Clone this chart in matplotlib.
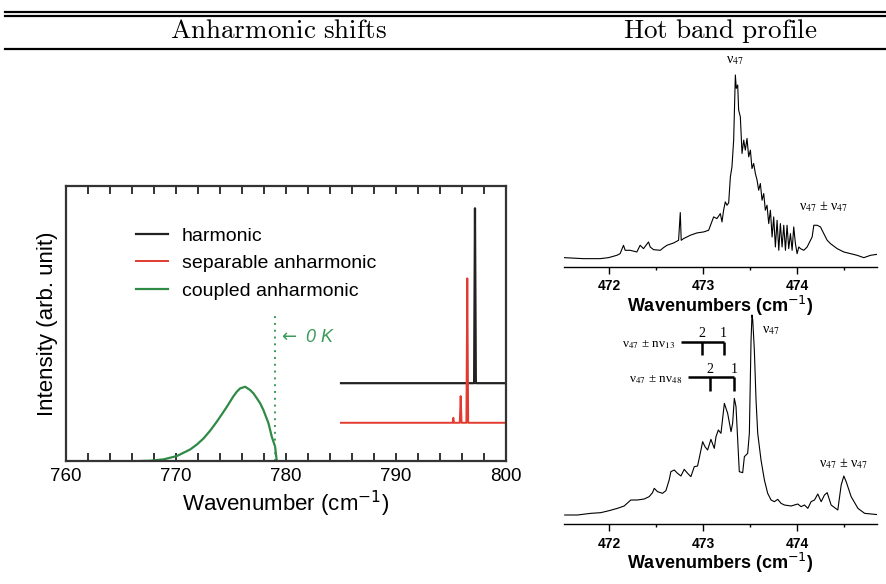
import numpy as np
import matplotlib.pyplot as plt
from matplotlib.lines import Line2D

# ---- left panel: simulated spectra (axis units: 0..1 of plot height)
green_w = [766.75, 767.66, 768.87, 770.08, 771.29, 771.9, 772.5, 773.1, 773.71, 774.17,
           774.62, 775.23, 775.53, 775.83, 776.29, 776.74, 777.04, 777.35, 777.65, 777.95,
           778.41, 778.71, 779.01, 779.16]
green_I = [0.0, 0.001, 0.006, 0.018, 0.042, 0.06, 0.082, 0.11, 0.143, 0.17,
           0.197, 0.236, 0.252, 0.264, 0.270, 0.258, 0.246, 0.228, 0.21, 0.185,
           0.137, 0.088, 0.052, 0.0]
harm_w = [785.0, 797.1, 797.18, 797.26, 800.0]
harm_I = [0.283, 0.283, 0.919, 0.283, 0.283]
sep_w = [785.0, 795.15, 795.21, 795.27, 795.8, 795.88, 795.96, 796.4, 796.48, 796.56, 800.0]
sep_I = [0.139, 0.139, 0.157, 0.139, 0.139, 0.236, 0.139, 0.139, 0.664, 0.139, 0.139]
zero_K = 779.0
zero_K_top = 0.53

# ---- right top: hot band profile (arb. units)
top_w = [471.520, 471.727, 471.904, 471.993, 472.082, 472.117, 472.153, 472.171, 472.224, 472.295,
         472.330, 472.366, 472.419, 472.437, 472.472, 472.544, 472.579, 472.615, 472.686, 472.739,
         472.757, 472.767, 472.792, 472.863, 472.934, 473.005, 473.059, 473.112, 473.147, 473.183,
         473.201, 473.218, 473.236, 473.254, 473.272, 473.290, 473.307, 473.325, 473.343, 473.353,
         473.368, 473.378, 473.396, 473.414, 473.432, 473.449, 473.467, 473.485, 473.503, 473.520,
         473.538, 473.556, 473.574, 473.591, 473.609, 473.627, 473.645, 473.662, 473.680, 473.698,
         473.716, 473.734, 473.751, 473.769, 473.787, 473.805, 473.822, 473.840, 473.858, 473.876,
         473.893, 473.911, 473.929, 473.947, 473.964, 473.982, 474.000, 474.018, 474.036, 474.071,
         474.107, 474.142, 474.160, 474.178, 474.213, 474.249, 474.266, 474.284, 474.320, 474.355,
         474.426, 474.497, 474.568, 474.639, 474.710, 474.781, 474.853]
top_I = [28, 25, 25, 28, 35, 40, 65, 50, 50, 45,
         65, 55, 75, 60, 52, 50, 58, 65, 72, 80,
         163, 80, 85, 95, 102, 105, 110, 150, 145, 160,
         135, 170, 195, 185, 192, 270, 300, 380, 575, 535,
         545, 470, 450, 340, 380, 350, 385, 330, 350, 295,
         310, 280, 260, 230, 250, 200, 220, 170, 185, 130,
         170, 90, 150, 60, 140, 50, 130, 60, 125, 50,
         125, 55, 100, 50, 120, 70, 40, 60, 55, 50,
         60, 80, 90, 125, 125, 120, 110, 100, 80, 70,
         55, 45, 40, 35, 28, 35, 38]

# ---- right bottom: hot band profile (arb. units)
bot_w = [471.528, 471.663, 471.805, 471.911, 472.000, 472.089, 472.160, 472.231, 472.302, 472.373,
         472.426, 472.462, 472.480, 472.515, 472.568, 472.604, 472.639, 472.657, 472.693, 472.728,
         472.764, 472.799, 472.835, 472.870, 472.906, 472.941, 472.977, 472.995, 473.020, 473.048,
         473.083, 473.119, 473.137, 473.162, 473.190, 473.226, 473.261, 473.297, 473.314, 473.332,
         473.350, 473.368, 473.385, 473.421, 473.439, 473.474, 473.492, 473.510, 473.520, 473.528,
         473.545, 473.563, 473.581, 473.616, 473.652, 473.687, 473.723, 473.758, 473.794, 473.829,
         473.865, 473.936, 474.007, 474.043, 474.078, 474.114, 474.149, 474.185, 474.220, 474.256,
         474.291, 474.320, 474.362, 474.433, 474.469, 474.497, 474.522, 474.575, 474.647, 474.718,
         474.789, 474.860]
bot_I = [27, 27, 32, 34, 40, 47, 54, 72, 72, 75,
         82, 94, 107, 97, 92, 100, 132, 157, 162, 152,
         144, 164, 152, 142, 172, 174, 222, 247, 232, 222,
         254, 227, 262, 282, 272, 362, 332, 277, 302, 377,
         352, 252, 157, 154, 202, 212, 272, 552, 627, 612,
         522, 372, 272, 192, 132, 92, 72, 67, 74, 62,
         57, 54, 60, 52, 57, 47, 67, 72, 90, 67,
         87, 94, 57, 42, 117, 144, 127, 82, 47, 32,
         30, 28]

# progressions (bracket positions in wavenumbers)
prog13_w = [472.764, 472.984, 473.218]
prog48_w = [472.842, 473.073, 473.332]
prog13_y, prog48_y = 547, 440

plt.rcParams['font.family'] = 'Liberation Sans'

fig = plt.figure(figsize=(8.87, 5.84), dpi=100)
W, H = 887, 584

def fbox(x0, y0, x1, y1):
    return [x0 / W, (H - y1) / H, (x1 - x0) / W, (y1 - y0) / H]

# header rules and titles
for yy, lw in [(11.5, 1.6), (15.5, 1.6), (48.5, 1.6)]:
    fig.add_artist(Line2D([5 / W, 1], [1 - yy / H, 1 - yy / H], color='black', lw=lw))
fig.text(278 / W, 1 - 31 / H, r'$\mathrm{Anharmonic\ shifts}$', math_fontfamily='cm',
         fontsize=19.5, ha='center', va='center')
fig.text(720 / W, 1 - 31 / H, r'$\mathrm{Hot\ band\ profile}$', math_fontfamily='cm',
         fontsize=19.5, ha='center', va='center')

# ---- left panel
frame = '#333333'
ax1 = fig.add_axes(fbox(66, 186, 506, 461))
ax1.plot(green_w, green_I, color='#2f8a45', lw=1.6, label='coupled anharmonic')
ax1.plot(harm_w, harm_I, color='#222222', lw=1.6, label='harmonic')
ax1.plot(sep_w, sep_I, color='#e23a2e', lw=1.4, label='separable anharmonic')
ax1.plot([zero_K, zero_K], [0, zero_K_top], color='#3a9a5a', lw=1.4, ls=(0, (1, 2.5)))
ax1.text(zero_K + 0.3, 0.45, r'$\leftarrow$ 0 K', color='#3a9a5a', fontsize=13,
         style='italic', va='center', ha='left')
ax1.set_xlim(760, 800)
ax1.set_ylim(0, 1)
ax1.set_xticks([760, 770, 780, 790, 800])
ax1.set_xticks(np.arange(760, 801, 2), minor=True)
ax1.set_yticks([])
ax1.tick_params(axis='x', which='both', direction='in', top=True, length=6, width=1.4,
                color=frame, labelsize=13.5, pad=5)
for s in ax1.spines.values():
    s.set_linewidth(1.6)
    s.set_color(frame)
ax1.set_xlabel('Wavenumber (cm$^{-1}$)', fontsize=16, labelpad=3)
ax1.set_ylabel('Intensity (arb. unit)', fontsize=16, labelpad=6)
h, l = ax1.get_legend_handles_labels()
order = [1, 2, 0]
ax1.legend([h[i] for i in order], [l[i] for i in order], loc='upper left',
           bbox_to_anchor=(0.16, 0.85), frameon=False, fontsize=14, handlelength=1.65,
           handletextpad=0.7, labelspacing=0.5, borderpad=0, borderaxespad=0)

# ---- right panels
nu_font = dict(family='Liberation Serif', math_fontfamily='stix', ha='center')

def right_axes(ax, w, I, ymax):
    ax.plot(w, I, color='black', lw=0.8)
    ax.set_xlim(471.52, 474.85)
    ax.set_ylim(0, ymax)
    ax.set_xticks([472, 473, 474])
    ax.set_xticks([472.5, 473.5, 474.5], minor=True)
    ax.set_yticks([])
    for k in ['top', 'left', 'right']:
        ax.spines[k].set_visible(False)
    ax.spines['bottom'].set_linewidth(1.0)
    ax.tick_params(axis='x', which='major', direction='out', length=5, width=1.0,
                   labelsize=10, pad=4)
    ax.tick_params(axis='x', which='minor', direction='out', length=2.5, width=1.0)
    for t in ax.get_xticklabels():
        t.set_fontweight('bold')
    ax.set_xlabel('Wavenumbers (cm$^{-1}$)', fontsize=13, fontweight='bold', labelpad=0)
    ax.patch.set_visible(False)

ax2 = fig.add_axes(fbox(564, 70, 877, 267))
right_axes(ax2, top_w, top_I, 590)
ax2.text(473.343, 598, 'ν$_{47}$', fontsize=10, va='bottom', clip_on=False, **nu_font)
ax2.text(474.28, 160, 'ν$_{47}$ ± ν$_{47}$', fontsize=10, va='bottom', **nu_font)

ax3 = fig.add_axes(fbox(564, 312, 877, 524))
right_axes(ax3, bot_w, bot_I, 636)
ax3.text(473.72, 580, 'ν$_{47}$', fontsize=10, va='center', **nu_font)
ax3.text(474.49, 182, 'ν$_{47}$ ± ν$_{47}$', fontsize=10, va='center', **nu_font)

for pw, py, lab in [(prog13_w, prog13_y, 'ν$_{47}$ ± nν$_{13}$'),
                    (prog48_w, prog48_y, 'ν$_{47}$ ± nν$_{48}$')]:
    ax3.plot([pw[0], pw[2]], [py, py], color='black', lw=1.8, solid_capstyle='butt')
    ax3.plot([pw[1], pw[1]], [py, py - 40], color='black', lw=1.8, solid_capstyle='butt')
    ax3.plot([pw[2], pw[2]], [py, py - 40], color='black', lw=1.8, solid_capstyle='butt')
    ax3.text(pw[1], py + 4, '2', fontsize=10, va='bottom', **nu_font)
    ax3.text(pw[2], py + 4, '1', fontsize=10, va='bottom', **nu_font)
    ax3.text(pw[0] - 0.06, py - 8, lab, fontsize=9.5, va='center',
             family='Liberation Serif', math_fontfamily='stix', ha='right')

fig.savefig('out.png', dpi=100)
